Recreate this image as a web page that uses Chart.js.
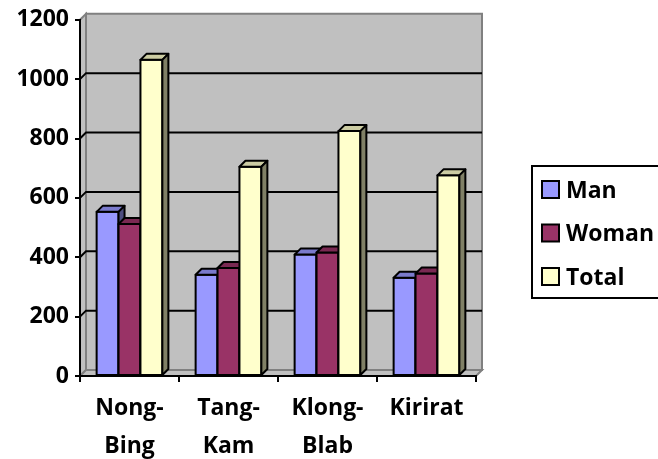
<!DOCTYPE html>
<html lang="en">
<head>
    <meta charset="UTF-8">
    <title>Population by Area</title>
    <script src="https://cdn.jsdelivr.net/npm/chart.js"></script>
    <style>
        body { margin: 0; background: #fff; }
        canvas { display: block; }
    </style>
</head>
<body>
    <canvas id="chart" width="658" height="459"></canvas>

    <script>
        // data
        var categories = [['Nong-', 'Bing'], ['Tang-', 'Kam'], ['Klong-', 'Blab'], 'Kirirat'];
        var manValues = [553, 341, 409, 331];
        var womanValues = [512, 364, 416, 345];
        var totalValues = [1065, 705, 825, 676];
        var yTicks = [0, 200, 400, 600, 800, 1000, 1200];

        var FONT = '"Open Sans", "DejaVu Sans", sans-serif';
        var DEPTH = 6;      // wall depth offset
        var BAR_DEPTH = 6;  // bar depth offset

        function shade(hex, f) {
            var n = parseInt(hex.slice(1), 16);
            var r = Math.round(((n >> 16) & 255) * f);
            var g = Math.round(((n >> 8) & 255) * f);
            var b = Math.round((n & 255) * f);
            return 'rgb(' + r + ',' + g + ',' + b + ')';
        }

        function poly(ctx, pts, fill, stroke, lw) {
            ctx.beginPath();
            ctx.moveTo(pts[0][0], pts[0][1]);
            for (var i = 1; i < pts.length; i++) ctx.lineTo(pts[i][0], pts[i][1]);
            ctx.closePath();
            if (fill) { ctx.fillStyle = fill; ctx.fill(); }
            if (stroke) { ctx.strokeStyle = stroke; ctx.lineWidth = lw; ctx.stroke(); }
        }

        // walls, floor and gridlines of the 3D box, then bars with top and side faces
        var threeD = {
            id: 'threeD',
            beforeDraw: function (chart) {
                var ctx = chart.ctx, a = chart.chartArea, d = DEPTH;
                var yScale = chart.scales.y;
                ctx.save();
                ctx.lineJoin = 'miter';
                // side wall
                poly(ctx, [[a.left, a.top], [a.left + d, a.top - d], [a.left + d, a.bottom - d], [a.left, a.bottom]], '#c0c0c0', '#808080', 2);
                // floor
                poly(ctx, [[a.left, a.bottom], [a.left + d, a.bottom - d], [a.right + d, a.bottom - d], [a.right, a.bottom]], '#c0c0c0', '#808080', 2);
                // back wall
                poly(ctx, [[a.left + d, a.top - d], [a.right + d, a.top - d], [a.right + d, a.bottom - d], [a.left + d, a.bottom - d]], '#c0c0c0', '#808080', 2);
                // gridlines
                ctx.strokeStyle = '#000';
                ctx.lineWidth = 2;
                yTicks.slice(1, -1).forEach(function (v) {
                    var y = yScale.getPixelForValue(v);
                    ctx.beginPath();
                    ctx.moveTo(a.left, y);
                    ctx.lineTo(a.left + d, y - d);
                    ctx.lineTo(a.right + d, y - d);
                    ctx.stroke();
                });
                ctx.restore();
            },
            beforeDatasetsDraw: function (chart) {
                var ctx = chart.ctx, d = BAR_DEPTH;
                ctx.save();
                ctx.lineJoin = 'round';
                for (var i = 0; i < chart.data.labels.length; i++) {
                    chart.data.datasets.forEach(function (ds, di) {
                        var el = chart.getDatasetMeta(di).data[i];
                        var p = el.getProps(['x', 'y', 'base', 'width'], true);
                        var l = p.x - p.width / 2, r = p.x + p.width / 2, t = p.y, b = p.base;
                        var c = ds.backgroundColor;
                        poly(ctx, [[l, t], [r, t], [r, b], [l, b]], c, '#000', 2);
                        poly(ctx, [[l, t], [l + d, t - d], [r + d, t - d], [r, t]], shade(c, 0.8), '#000', 2);
                        poly(ctx, [[r, t], [r + d, t - d], [r + d, b - d], [r, b]], shade(c, 0.5), '#000', 2);
                    });
                }
                ctx.restore();
                return false;
            },
            afterDraw: function (chart) {
                // boxed legend on the right
                var ctx = chart.ctx;
                ctx.save();
                ctx.strokeStyle = '#000';
                ctx.lineWidth = 2;
                ctx.strokeRect(532, 166, 140, 132);
                ctx.font = 'bold 23px ' + FONT;
                ctx.textBaseline = 'middle';
                chart.data.datasets.forEach(function (ds, i) {
                    var y = 190 + i * 43.5;
                    ctx.fillStyle = ds.backgroundColor;
                    ctx.fillRect(542, y - 9, 17, 17);
                    ctx.strokeRect(542, y - 9, 17, 17);
                    ctx.fillStyle = '#000';
                    ctx.fillText(ds.label, 566, y + 1);
                });
                ctx.restore();
            }
        };

        var ctx = document.getElementById('chart').getContext('2d');
        new Chart(ctx, {
            type: 'bar',
            data: {
                labels: categories,
                datasets: [
                    { label: 'Man', data: manValues, backgroundColor: '#9999ff' },
                    { label: 'Woman', data: womanValues, backgroundColor: '#993366' },
                    { label: 'Total', data: totalValues, backgroundColor: '#ffffcc' }
                ]
            },
            options: {
                responsive: false,
                animation: false,
                layout: { padding: { top: 19, right: 182, left: 0, bottom: 0 } },
                datasets: { bar: { categoryPercentage: 0.664, barPercentage: 1 } },
                plugins: { legend: { display: false }, tooltip: { enabled: false } },
                scales: {
                    x: {
                        grid: { offset: true, drawOnChartArea: false, tickLength: 6, color: '#000', lineWidth: 2 },
                        border: { color: '#000', width: 2 },
                        ticks: {
                            color: '#000',
                            maxRotation: 0,
                            padding: 7,
                            font: { family: FONT, size: 23, weight: 'bold', lineHeight: '38px' }
                        },
                        afterFit: function (s) { s.height = 83; }
                    },
                    y: {
                        min: yTicks[0],
                        max: yTicks[yTicks.length - 1],
                        grid: { drawOnChartArea: false, tickLength: 5, color: '#000', lineWidth: 2 },
                        border: { color: '#000', width: 2 },
                        ticks: {
                            stepSize: yTicks[1] - yTicks[0],
                            color: '#000',
                            padding: 6,
                            font: { family: FONT, size: 23, weight: 'bold' },
                            callback: function (v) { return String(v); }
                        },
                        afterFit: function (s) { s.width = 80; }
                    }
                }
            },
            plugins: [threeD]
        });
    </script>
</body>
</html>
